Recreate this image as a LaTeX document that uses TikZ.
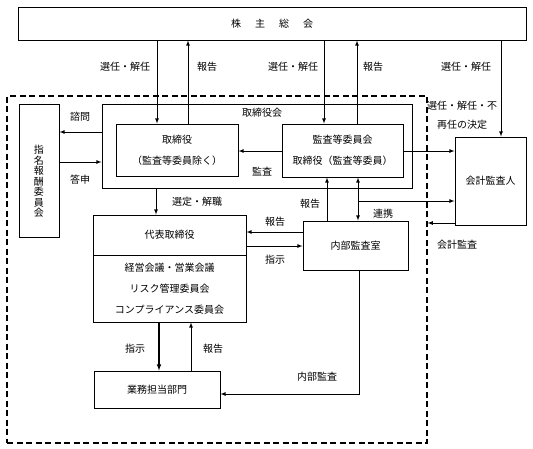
\documentclass[tikz,border=0pt]{standalone}
\usepackage{fontspec}
\newfontfamily\jpfont{Noto Sans CJK JP}
\usetikzlibrary{arrows,positioning}
\tikzset{>=latex,
         box/.style={draw,line width=1pt,inner sep=0pt,align=center,
           font=\jpfont\fontsize{10}{21}\selectfont},
         lbl/.style={inner sep=0pt,font=\jpfont\fontsize{10}{12}\selectfont},
         link/.style={line width=0.8pt}}

\begin{document}
\begin{tikzpicture}[x=1pt,y=-1pt]
	  \useasboundingbox (0,0) rectangle (533,448);
	  \node[box,minimum width=508pt,minimum height=33pt] (soukai) at (272,23.5)
	    {株\hspace{14pt}主\hspace{14pt}総\hspace{14pt}会};
	  \node[draw,line width=1.2pt,dash pattern=on 6pt off 3.5pt,
	        minimum width=420pt,minimum height=347pt,inner sep=0pt] (frame) at (217,269.5) {};
	  \node[box,minimum width=310pt,minimum height=84pt] (torikai) at (257,146) {};
	  \node[lbl] (torikaiLbl) at (262,113) {取締役会};
	  \node[box,minimum width=122pt,minimum height=52pt] (tori) at (177,150)
	    {取締役\\（監査等委員除く）};
	  \node[box,minimum width=121pt,minimum height=53pt] (kansa) at (342.5,150.5)
	    {監査等委員会\\取締役（監査等委員）};
	  \node[box,minimum width=40pt,minimum height=133pt] (shimei) at (39,170.5) {};
	  \node[lbl,align=center,font=\jpfont\fontsize{10}{10.5}\selectfont]
	    (shimeiLbl) at (39,181.5) {指\\名\\報\\酬\\委\\員\\会};
	  \node[box,minimum width=153pt,minimum height=40pt] (daihyo) at (169.5,235) {代表取締役};
	  \node[box,minimum width=153pt,minimum height=67pt] (kaigi) at (169.5,288.5)
	    {経営会議・営業会議\\リスク管理委員会\\コンプライアンス委員会};
	  \node[box,minimum width=105pt,minimum height=49pt] (naibu) at (355.5,245.5) {内部監査室};
	  \node[box,minimum width=71pt,minimum height=88pt] (kaikei) at (490.5,181) {会計監査人};
	  \node[box,minimum width=126pt,minimum height=37pt] (gyomu) at (157,389.5) {業務担当部門};

	  \draw[link,->] (157,0 |- soukai.south) -- (157,0 |- tori.north);
	  \draw[link,->] (188,0 |- tori.north) -- (188,0 |- soukai.south);
	  \draw[link,->] (324,0 |- soukai.south) -- (324,0 |- kansa.north);
	  \draw[link,->] (357,0 |- kansa.north) -- (357,0 |- soukai.south);
	  \draw[link,->] (501,0 |- soukai.south) -- (501,0 |- kaikei.north);
	  \node[lbl] (senA) at (125,67) {選任・解任};
	  \node[lbl] (hokA) at (207,67) {報告};
	  \node[lbl] (senB) at (293,67) {選任・解任};
	  \node[lbl] (hokB) at (373,67) {報告};
	  \node[lbl] (senC) at (466,67) {選任・解任};
	  \node[lbl] (fusai) at (462,106) {選任・解任・不};
	  \node[lbl] (kettei) at (462,125) {再任の決定};

	  \draw[link,->] (torikai.west |- 0,132) -- (shimei.east |- 0,132);
	  \draw[link,->] (shimei.east |- 0,162) -- (torikai.west |- 0,162);
	  \node[lbl] (shimon) at (80,117) {諮問};
	  \node[lbl] (toshin) at (80,180) {答申};
	  \draw[link,->] (kansa.west |- 0,151) -- (tori.east |- 0,151);
	  \node[lbl] (kansaLbl) at (262,172) {監査};
	  \draw[link,->] (kansa.east |- 0,151) -- (kaikei.west |- 0,151);

	  \draw[link,->] (156,0 |- torikai.south) -- (156,0 |- daihyo.north);
	  \node[lbl] (sentei) at (197,202) {選定・解職};
	  \draw[link,->] (naibu.west |- 0,232) -- (daihyo.east |- 0,232);
	  \node[lbl] (hokC) at (275,222) {報告};
	  \draw[link,->] (daihyo.east |- 0,246) -- (naibu.west |- 0,246);
	  \node[lbl] (shijiA) at (275,260) {指示};
	  \draw[link,->] (327,0 |- naibu.north) -- (327,0 |- kansa.south);
	  \node[lbl] (hokD) at (310,204) {報告};
	  \draw[link,<->] (358,0 |- kansa.south) -- (358,0 |- naibu.north);
	  \draw[link,->] (358,201) -- (kaikei.west |- 0,201);
	  \node[lbl] (renkei) at (383,214) {連携};
	  \draw[link,->] (kaikei.west |- 0,223) -- (frame.east |- 0,223);
	  \node[lbl] (kaikeiLbl) at (457,245) {会計監査};

	  \draw[line width=1.1pt,->] (159,0 |- kaigi.south) -- (159,0 |- gyomu.north);
	  \node[lbl] (shijiB) at (135,349) {指示};
	  \draw[link,->] (191,0 |- gyomu.north) -- (191,0 |- kaigi.south);
	  \node[lbl] (hokE) at (213,349) {報告};
	  \draw[link,->] (359,0 |- naibu.south) |- (gyomu.east |- 0,394);
	  \node[lbl] (naibuLbl) at (317,377) {内部監査};
	\end{tikzpicture}
\end{document}
